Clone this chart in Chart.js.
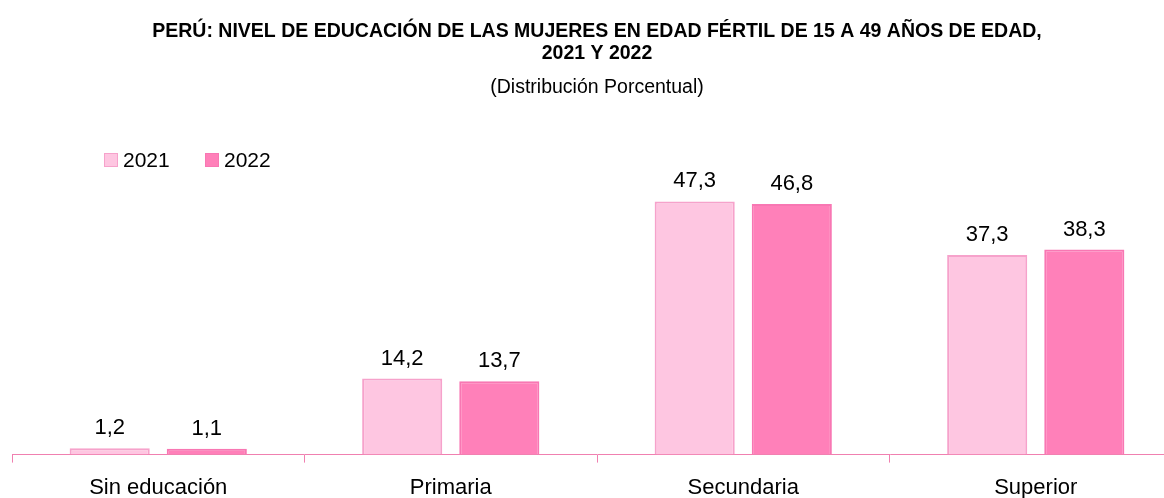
<!DOCTYPE html>
<html><head><meta charset="utf-8">
<script src="https://cdn.jsdelivr.net/npm/chart.js@4"></script>
<style>
html,body{margin:0;padding:0;background:#fff;overflow:hidden;}
#wrap{width:1190px;height:513px;position:relative;}
</style></head>
<body><div id="wrap"><canvas id="c"></canvas></div>
<script>
const categories = ["Sin educación", "Primaria", "Secundaria", "Superior"];
const seriesNames = ["2021", "2022"];
const values2021 = [1.2, 14.2, 47.3, 37.3];
const values2022 = [1.1, 13.7, 46.8, 38.3];
const titleLines = ["PERÚ: NIVEL DE EDUCACIÓN DE LAS MUJERES EN EDAD FÉRTIL DE 15 A 49 AÑOS DE EDAD,", "2021 Y 2022"];
const subtitleText = "(Distribución Porcentual)";

const FONT = "'Liberation Sans', Arial, sans-serif";

const valueLabels = {
  id: 'valueLabels',
  afterDatasetsDraw(chart) {
    const ctx = chart.ctx;
    ctx.save();
    ctx.font = "22px " + FONT;
    ctx.fillStyle = "#000";
    ctx.textAlign = "center";
    ctx.textBaseline = "alphabetic";
    chart.data.datasets.forEach((ds, i) => {
      chart.getDatasetMeta(i).data.forEach((bar, j) => {
        ctx.fillText(ds.data[j].toFixed(1).replace('.', ','), bar.x, bar.y - 14);
      });
    });
    ctx.restore();
  }
};

const customLegend = {
  id: 'customLegend',
  afterDraw(chart) {
    const ctx = chart.ctx;
    ctx.save();
    ctx.font = "21px " + FONT;
    ctx.textBaseline = "middle";
    ctx.textAlign = "left";
    let x = 104;
    const y = 160;
    chart.data.datasets.forEach((ds) => {
      ctx.fillStyle = ds.backgroundColor;
      ctx.strokeStyle = ds.borderColor;
      ctx.lineWidth = 1;
      ctx.fillRect(x, y - 7, 14, 14);
      ctx.strokeRect(x + 0.5, y - 6.5, 13, 13);
      ctx.fillStyle = "#000";
      ctx.fillText(ds.label, x + 19, y + 1);
      x += 101;
    });
    ctx.restore();
  }
};

new Chart(document.getElementById('c'), {
  type: 'bar',
  data: {
    labels: categories,
    datasets: [
      { label: seriesNames[0], data: values2021, backgroundColor: '#FEC6E1', borderColor: '#F6A2CB', borderWidth: 2 },
      { label: seriesNames[1], data: values2022, backgroundColor: '#FF80B9', borderColor: '#F877B3', borderWidth: 2 }
    ]
  },
  options: {
    responsive: true,
    maintainAspectRatio: false,
    animation: false,
    layout: { padding: { left: 12, right: 8, top: 14, bottom: 0 } },
    datasets: { bar: { categoryPercentage: 0.664, barPercentage: 0.825 } },
    plugins: {
      legend: { display: false },
      tooltip: { enabled: false },
      title: {
        display: true, text: titleLines, color: '#000',
        font: { family: FONT, size: 19.5, weight: 'bold', lineHeight: 1.13 },
        padding: { top: 7, bottom: 11 }
      },
      subtitle: {
        display: true, text: subtitleText, color: '#000',
        font: { family: FONT, size: 19.5, weight: 'normal', lineHeight: 1.2 },
        padding: { top: 0, bottom: 34 }
      }
    },
    scales: {
      x: {
        grid: { display: true, drawOnChartArea: false, drawTicks: true, tickLength: 8, color: '#F080B0', offset: true },
        border: { display: true, color: '#F080B0', width: 1 },
        ticks: { color: '#000', font: { family: FONT, size: 22 }, padding: 12 }
      },
      y: {
        display: false,
        min: 0, max: 60
      }
    }
  },
  plugins: [valueLabels, customLegend]
});
</script></body></html>
